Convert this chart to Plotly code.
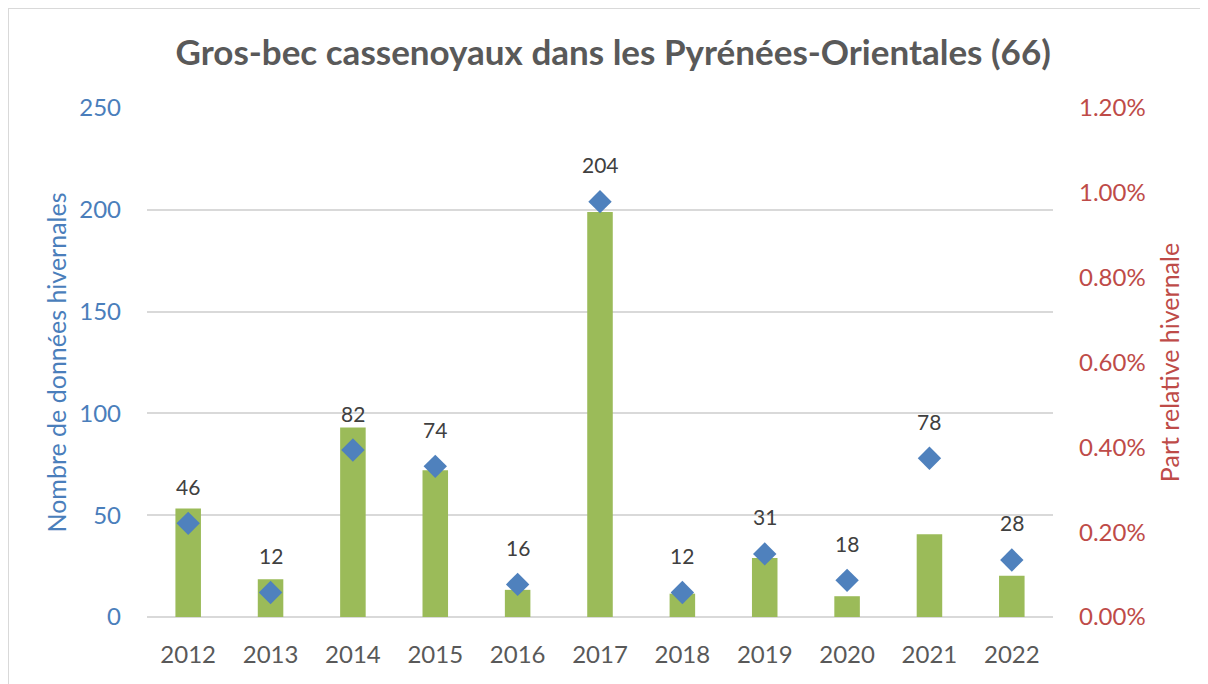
import plotly.graph_objects as go

years = ["2012", "2013", "2014", "2015", "2016", "2017", "2018", "2019", "2020", "2021", "2022"]
counts = [46, 12, 82, 74, 16, 204, 12, 31, 18, 78, 28]
share = [0.00256, 0.00089, 0.00447, 0.00346, 0.00064, 0.00955, 0.00055, 0.00139, 0.00049, 0.00195, 0.00097]

FONT = "Lato"
BLUE = "#4A7EBB"
RED = "#BE4B48"
GREEN = "#9BBB59"
GREY = "#595959"

L, T, PW, PH = 139, 100, 906, 509

fig = go.Figure()
fig.add_trace(go.Bar(x=years, y=share, marker=dict(color=GREEN, line=dict(width=0)),
                     width=0.31, yaxis="y", name="Part relative"))
fig.add_trace(go.Scatter(x=years, y=counts, mode="markers", yaxis="y2",
                         marker=dict(symbol="diamond", size=18, color="#4F81BD"),
                         name="Nombre"))

# on a category axis, annotation x is given as the category index
for i, c in enumerate(counts):
    fig.add_annotation(x=i, y=c, xref="x", yref="y2", text=str(c), showarrow=False,
                       yshift=37, font=dict(family=FONT, size=21, color="#404040"))

fig.update_layout(
    width=1208, height=684,
    margin=dict(l=L, r=1208 - L - PW, t=T, b=684 - T - PH),
    paper_bgcolor="white", plot_bgcolor="white",
    showlegend=False,
    font=dict(family=FONT),
    title=dict(text="<b>Gros-bec cassenoyaux dans les Pyrénées-Orientales (66)</b>",
               x=0.501, xanchor="center", y=0.934, yanchor="middle",
               font=dict(family=FONT, size=35, color=GREY)),
    xaxis=dict(type="category", range=[-0.5, len(years) - 0.5],
               showgrid=False, showline=False, ticks="", zeroline=False,
               tickfont=dict(family=FONT, size=24, color=GREY), ticklabelstandoff=21),
    yaxis=dict(side="right", range=[0, 0.012], dtick=0.002, tickformat=".2%",
               showgrid=False, zeroline=False, showline=False, ticks="",
               tickfont=dict(family=FONT, size=24, color=RED), ticklabelstandoff=25,
               title=dict(text="Part relative hivernale", standoff=16,
                          font=dict(family=FONT, size=25, color=RED))),
    yaxis2=dict(side="left", overlaying="y", range=[0, 250], dtick=50,
                showgrid=True, gridcolor="#D9D9D9", gridwidth=1.5,
                zeroline=True, zerolinecolor="#D9D9D9", zerolinewidth=1.5,
                showline=False, ticks="",
                tickfont=dict(family=FONT, size=24, color=BLUE), ticklabelstandoff=25,
                title=dict(text="Nombre de données hivernales", standoff=5,
                           font=dict(family=FONT, size=25, color=BLUE))),
)

fig.add_shape(type="rect", xref="paper", yref="paper",
              x0=(0 - L) / PW, x1=(1230 - L) / PW,
              y0=(T + PH - 700) / PH, y1=(T + PH - 0) / PH,
              line=dict(color="#D9D9D9", width=2), fillcolor="rgba(0,0,0,0)", layer="below")

fig.write_html("out.html")
